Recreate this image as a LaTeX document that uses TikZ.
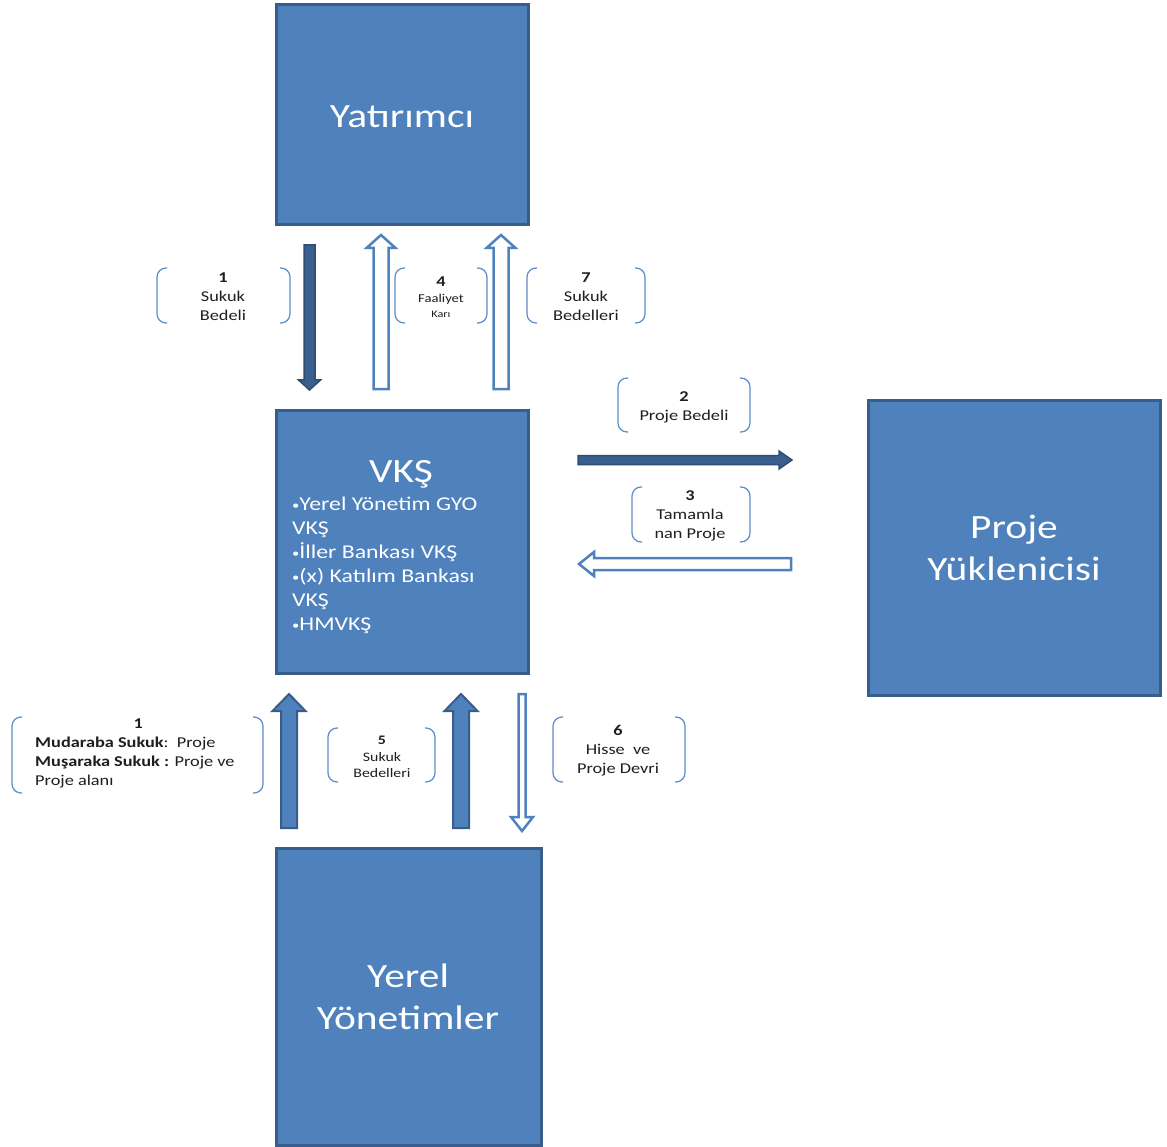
\documentclass[tikz,border=0pt]{standalone}
\usepackage{fontspec}
\setmainfont{Carlito}[FakeStretch=1.22]
\definecolor{boxfill}{HTML}{4F81BD}
\definecolor{boxline}{HTML}{385D8A}
\definecolor{darkfill}{HTML}{3A5F8F}
\definecolor{darkline}{HTML}{2E4D73}
\definecolor{brkline}{HTML}{5B8CC8}
\definecolor{txt}{HTML}{1E1E1E}

% small list bullet
\newcommand\lbul{\raisebox{1pt}{\fontsize{12}{12}\selectfont •}}

% vertical block arrow: style, x, tail y, tip y, half shaft, half head, head length
\newcommand\vblock[7]{%
  \pgfmathsetmacro\hbase{#4-sign(#4-#3)*#7}%
  \draw[#1] (#2-#5,#3) -- (#2-#5,\hbase) -- (#2-#6,\hbase) -- (#2,#4)
    -- (#2+#6,\hbase) -- (#2+#5,\hbase) -- (#2+#5,#3) -- cycle;}
% horizontal block arrow: style, y, tail x, tip x, half shaft, half head, head length
\newcommand\hblock[7]{%
  \pgfmathsetmacro\hbase{#4-sign(#4-#3)*#7}%
  \draw[#1] (#3,#2-#5) -- (\hbase,#2-#5) -- (\hbase,#2-#6) -- (#4,#2)
    -- (\hbase,#2+#6) -- (\hbase,#2+#5) -- (#3,#2+#5) -- cycle;}
% rounded bracket pair: left x, right x, top y, bottom y
\newcommand\brackets[4]{%
  \draw[brk] (#1+10,#3) -- (#1,#3) -- (#1,#4) -- (#1+10,#4);
  \draw[brk] (#2-10,#3) -- (#2,#3) -- (#2,#4) -- (#2-10,#4);}

\tikzset{
  block/.style={draw=boxline, line width=3pt, fill=boxfill},
  title/.style={text=white, font=\fontsize{34}{42}\selectfont, align=center},
  darkarrow/.style={fill=darkfill, draw=darkline, line width=1.5pt, line join=miter},
  midarrow/.style={fill=boxfill, draw=boxline, line width=2pt, line join=miter},
  hollowarrow/.style={fill=white, draw=boxfill, line width=2.5pt, line join=miter},
  brk/.style={draw=brkline, line width=1.2pt, rounded corners=9pt},
  lbl/.style={text=txt, align=center, inner sep=0pt, font=\fontsize{15}{19}\selectfont},
}

\begin{document}
\begin{tikzpicture}[x=1pt, y=-1pt]
\useasboundingbox (0,0) rectangle (1167,1147);

% main boxes
\draw[block] (276,5) rectangle (528,225);
\node[title] (yat) at (402,117) {Yatırımcı};

\draw[block] (276,410) rectangle (528,673);
\node[title] (vks) at (401,474) {VKŞ};
\node[text=white, anchor=north west, align=left, inner sep=0pt,
      font=\fontsize{19.5}{24}\selectfont] (vkslist) at (292,496.5)
  {\lbul Yerel Yönetim GYO\\VKŞ\\\lbul İller Bankası VKŞ\\\lbul(x) Katılım Bankası\\VKŞ\\\lbul HMVKŞ};

\draw[block] (868,400) rectangle (1160,695);
\node[title] (proje) at (1014,548) {Proje\\Yüklenicisi};

\draw[block] (276,848) rectangle (541,1145);
\node[title] (yerel) at (408,997) {Yerel\\Yönetimler};

% arrows between investor and SPV
\vblock{darkarrow}{309.5}{245}{390}{5.5}{11}{10}
\vblock{hollowarrow}{381}{389}{235}{7.5}{14.5}{13}
\vblock{hollowarrow}{501}{389}{235}{7.5}{14.5}{13}

% arrows between SPV and contractor
\hblock{darkarrow}{460}{578}{792}{4.5}{9}{13}
\hblock{hollowarrow}{564}{791}{579}{6}{12}{15}

% arrows between SPV and local governments
\vblock{midarrow}{289}{828}{694}{8}{16.5}{17}
\vblock{midarrow}{461}{828}{694}{8}{16.5}{17}
\vblock{hollowarrow}{522}{694}{831}{3.5}{11}{14}

% bracketed labels
\brackets{157}{290}{268}{323}
\node[lbl] (l1) at (223,297) {\textbf{1}\\Sukuk\\Bedeli};

\brackets{395}{487}{268}{323}
\node[lbl] (l4) at (441,297) {\textbf{4}\\[-3pt]{\fontsize{12}{14}\selectfont Faaliyet}\\[-4pt]{\fontsize{10}{11}\selectfont Karı}};

\brackets{527}{645}{268}{323}
\node[lbl] (l7) at (586,297) {\textbf{7}\\Sukuk\\Bedelleri};

\brackets{618}{750}{378}{432}
\node[lbl] (l2) at (684,407) {\textbf{2}\\Proje Bedeli};

\brackets{632}{750}{487}{542}
\node[lbl] (l3) at (690,516) {\textbf{3}\\Tamamla\\nan Proje};

\brackets{12}{263}{717}{793}
\node[lbl, anchor=north west, align=left] (l1b) at (35,719)
  {\makebox[206pt]{\textbf{1}}\\\textbf{Mudaraba Sukuk}:\ \ Proje\\\textbf{Muşaraka Sukuk :} Proje ve\\Proje alanı};

\brackets{328}{435}{728}{782}
\node[lbl, font=\fontsize{13}{16.5}\selectfont] (l5) at (382,757) {\textbf{5}\\{\fontsize{13}{16}\selectfont Sukuk}\\{\fontsize{13}{16}\selectfont Bedelleri}};

\brackets{553}{685}{717}{782}
\node[lbl] (l6) at (618,751) {\textbf{6}\\Hisse\ \ ve\\Proje Devri};
\end{tikzpicture}
\end{document}
